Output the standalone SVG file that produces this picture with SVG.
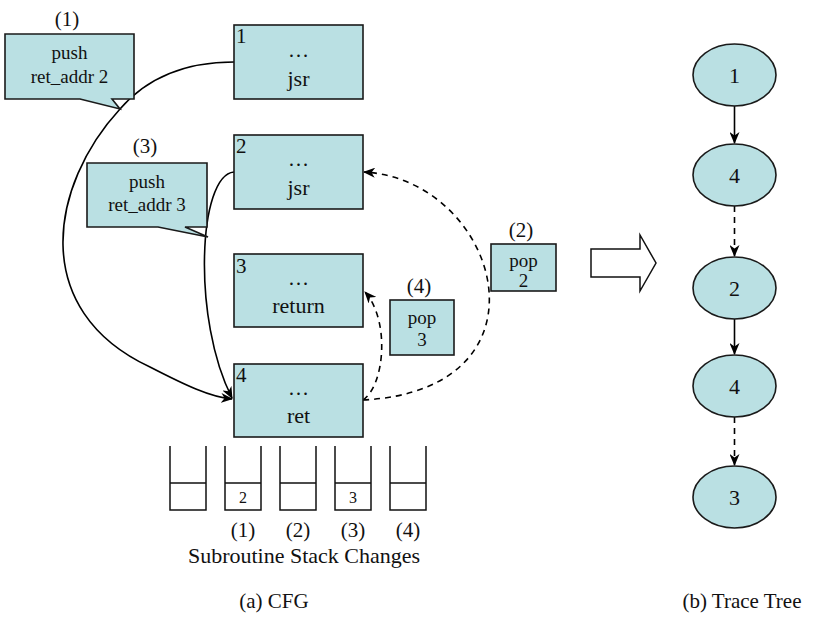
<svg xmlns="http://www.w3.org/2000/svg" width="818" height="621" viewBox="0 0 818 621">
<style>
.n{fill:#bae0e3;stroke:#1a1a1a;stroke-width:1.6}
text{font-family:'Liberation Serif','Tinos','Times New Roman','Nimbus Roman','DejaVu Serif',serif;fill:#111}
.c{text-anchor:middle}
.e{fill:none;stroke:#000;stroke-width:1.6}
.d{stroke-dasharray:6 5}
.s{fill:none;stroke:#111;stroke-width:1.5}
</style>
<defs>
<marker id="ah" viewBox="0 0 12 10" refX="11" refY="5" markerWidth="12" markerHeight="10" markerUnits="userSpaceOnUse" orient="auto">
<path d="M0,0 L12,5 L0,10 L3.5,5 z" fill="#000"/>
</marker>
</defs>
<rect width="818" height="621" fill="#fff"/>

<g id="connectors">
<path class="e" d="M234,62 C180,62 145,80 120,109 C50,185 28,310 150,367 C185,385 210,397 232,399" marker-end="url(#ah)"/>
<path class="e" d="M234,172 C198,175 192,320 232,398" marker-end="url(#ah)"/>
<path class="e d" d="M363,400 C560,390 500,180 364,172" marker-end="url(#ah)"/>
<path class="e d" d="M363,400 C385,385 390,320 365,292" marker-end="url(#ah)"/>
<path class="e" d="M734.5,106 L734.5,143" marker-end="url(#ah)"/>
<path class="e d" d="M734.5,206 L734.5,256" marker-end="url(#ah)"/>
<path class="e" d="M734.5,319 L734.5,354" marker-end="url(#ah)"/>
<path class="e d" d="M734.5,417 L734.5,465" marker-end="url(#ah)"/>
</g>

<g id="callout1">
<text class="c" x="67" y="26" font-size="21">(1)</text>
<polygon class="n" points="5,34 134,34 134,99 112,99 120,109 80,99 5,99"/>
<text class="c" x="69.5" y="59" font-size="19">push</text>
<text class="c" x="69.5" y="83" font-size="19">ret_addr 2</text>
</g>

<g id="callout3">
<text class="c" x="145" y="153" font-size="21">(3)</text>
<polygon class="n" points="87,163 207,163 207,227 185,227 208,237 158,227 87,227"/>
<text class="c" x="147" y="188" font-size="19">push</text>
<text class="c" x="147" y="211" font-size="19">ret_addr 3</text>
</g>

<g id="block1">
<rect class="n" x="234" y="25" width="129" height="74"/>
<text x="236" y="43" font-size="21">1</text>
<text class="c" x="298.5" y="57" font-size="21">…</text>
<text class="c" x="298.5" y="86" font-size="22">jsr</text>
</g>

<g id="block2">
<rect class="n" x="234" y="135" width="129" height="74"/>
<text x="236" y="153" font-size="21">2</text>
<text class="c" x="298.5" y="166" font-size="21">…</text>
<text class="c" x="298.5" y="195" font-size="22">jsr</text>
</g>

<g id="block3">
<rect class="n" x="234" y="254" width="129" height="73"/>
<text x="236" y="273" font-size="21">3</text>
<text class="c" x="298.5" y="285" font-size="21">…</text>
<text class="c" x="298.5" y="313" font-size="22">return</text>
</g>

<g id="block4">
<rect class="n" x="234" y="364" width="129" height="73"/>
<text x="236" y="382" font-size="21">4</text>
<text class="c" x="298.5" y="395" font-size="21">…</text>
<text class="c" x="298.5" y="423" font-size="22">ret</text>
</g>

<g id="pop3">
<text class="c" x="419" y="293" font-size="21">(4)</text>
<rect class="n" x="390" y="300" width="64" height="55"/>
<text class="c" x="422" y="324" font-size="19">pop</text>
<text class="c" x="422" y="346" font-size="19">3</text>
</g>

<g id="pop2">
<text class="c" x="521" y="237" font-size="21">(2)</text>
<rect class="n" x="491" y="244" width="65" height="47"/>
<text class="c" x="523.5" y="267" font-size="19">pop</text>
<text class="c" x="523.5" y="287" font-size="19">2</text>
</g>

<g id="stacks">
<path class="s" d="M170,446 V510 H206 V446 M170,483 H206"/>
<path class="s" d="M225,446 V510 H261 V446 M225,483 H261"/>
<path class="s" d="M280,446 V510 H316 V446 M280,483 H316"/>
<path class="s" d="M335,446 V510 H371 V446 M335,483 H371"/>
<path class="s" d="M390,446 V510 H426 V446 M390,483 H426"/>
<text class="c" x="243" y="503" font-size="16">2</text>
<text class="c" x="353" y="503" font-size="16">3</text>
<text class="c" x="243" y="537" font-size="21">(1)</text>
<text class="c" x="298" y="537" font-size="21">(2)</text>
<text class="c" x="353" y="537" font-size="21">(3)</text>
<text class="c" x="408" y="537" font-size="21">(4)</text>
<text class="c" x="304" y="563" font-size="22">Subroutine Stack Changes</text>
</g>

<g id="bigarrow">
<polygon points="591,249 640,249 640,235 656,263 640,291 640,277 591,277" fill="#fff" stroke="#111" stroke-width="1.5"/>
</g>

<g id="t1"><ellipse class="n" cx="734.5" cy="75" rx="41.5" ry="31"/><text class="c" x="734.5" y="83" font-size="22">1</text></g>
<g id="t4a"><ellipse class="n" cx="734.5" cy="175" rx="41.5" ry="31"/><text class="c" x="734.5" y="183" font-size="22">4</text></g>
<g id="t2"><ellipse class="n" cx="734.5" cy="288" rx="41.5" ry="31"/><text class="c" x="734.5" y="296" font-size="22">2</text></g>
<g id="t4b"><ellipse class="n" cx="734.5" cy="386" rx="41.5" ry="31"/><text class="c" x="734.5" y="394" font-size="22">4</text></g>
<g id="t3"><ellipse class="n" cx="734.5" cy="497" rx="41.5" ry="31"/><text class="c" x="734.5" y="505" font-size="22">3</text></g>

<text class="c" x="274" y="608" font-size="21">(a) CFG</text>
<text class="c" x="742" y="608" font-size="21">(b) Trace Tree</text>
</svg>
